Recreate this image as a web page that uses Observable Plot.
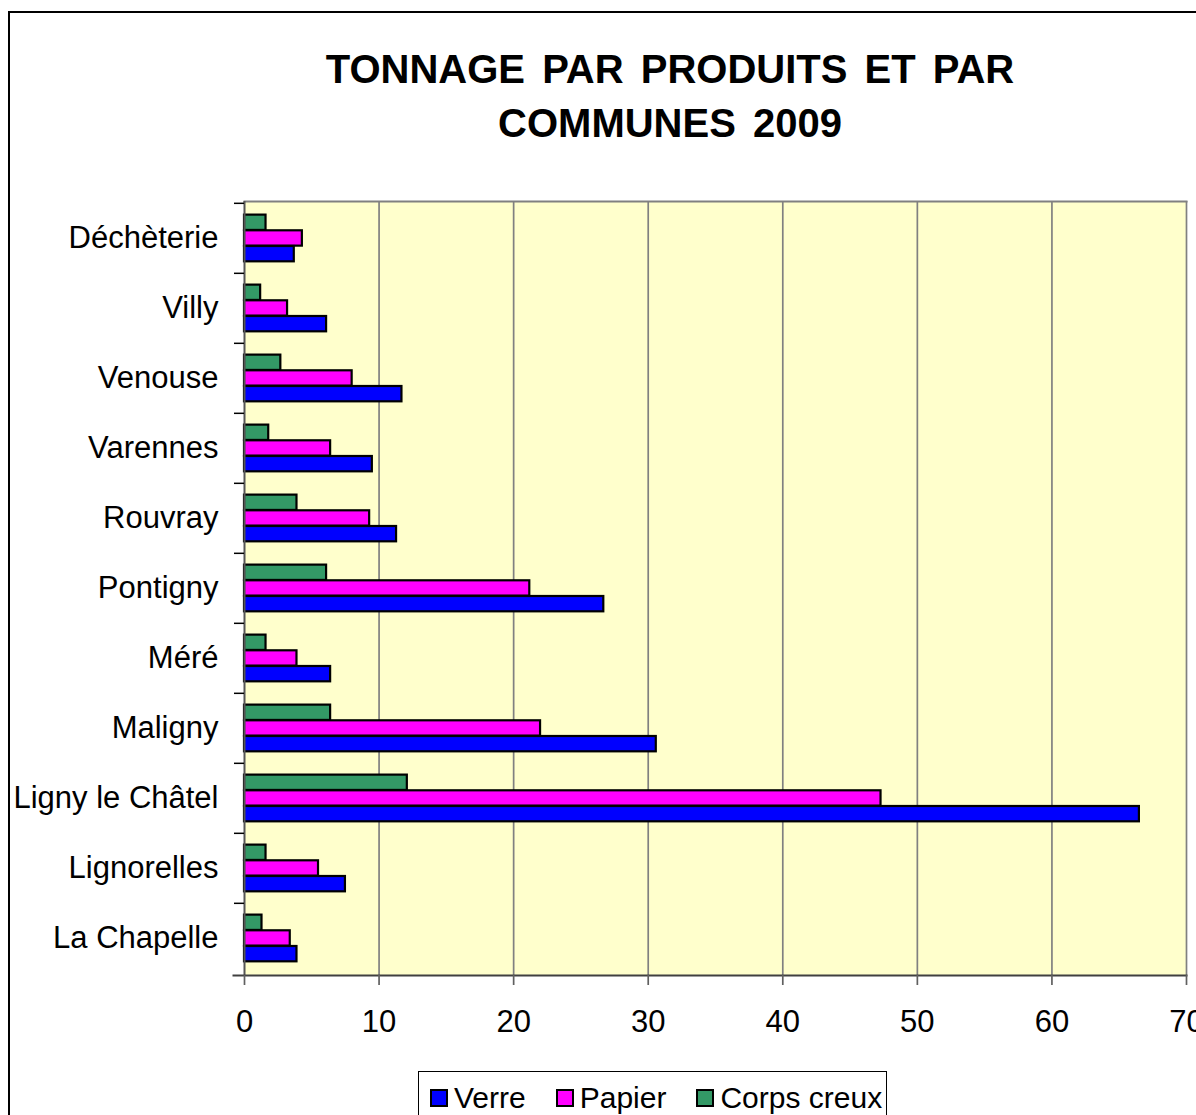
<!DOCTYPE html>
<html><head><meta charset="utf-8">
<script src="https://cdn.jsdelivr.net/npm/d3@7"></script>
<script src="https://cdn.jsdelivr.net/npm/@observablehq/plot@0.6"></script>
<style>
html,body{margin:0;padding:0;overflow:hidden;background:#fff;}
body{width:1196px;height:1115px;position:relative;font-family:"Liberation Sans",Arial,sans-serif;color:#000;}
#border{position:absolute;left:8px;top:11px;width:1300px;height:1300px;border:2px solid #000;box-sizing:border-box;pointer-events:none;}
#title{position:relative;box-sizing:border-box;width:1196px;padding-top:42px;padding-left:144px;text-align:center;font-weight:bold;font-size:40px;word-spacing:6px;line-height:54px;height:150px;white-space:nowrap;}
#chart{position:relative;height:910px;}
#legend{position:relative;margin-left:418px;margin-top:11px;width:469px;height:60px;border:1.5px solid #000;box-sizing:border-box;display:flex;flex-wrap:nowrap;align-items:flex-start;padding:8px 0 0 11px;font-size:30px;line-height:36px;background:#fff;white-space:nowrap;}
.item{display:flex;align-items:center;margin-right:30px;height:36px;flex-shrink:0;white-space:nowrap;}
.sw{width:18px;height:18px;border:2px solid #000;box-sizing:border-box;margin-right:6px;flex-shrink:0;}
</style>
</head><body>
<div id="border"></div>
<div id="title">TONNAGE PAR PRODUITS ET PAR<br>COMMUNES 2009</div>
<div id="chart"></div>
<div id="legend"></div>
<script>
// Categories (bottom to top as in the chart)
const communes = ["La Chapelle","Lignorelles","Ligny le Châtel","Maligny","Méré","Pontigny","Rouvray","Varennes","Venouse","Villy","Déchèterie"];
// Series values (tonnes)
const verre      = [3.9, 7.5, 66.5, 30.6, 6.4, 26.7, 11.3, 9.5, 11.7, 6.1, 3.7];
const papier     = [3.4, 5.5, 47.3, 22.0, 3.9, 21.2, 9.3, 6.4, 8.0, 3.2, 4.3];
const corpsCreux = [1.3, 1.6, 12.1, 6.4, 1.6, 6.1, 3.9, 1.8, 2.7, 1.2, 1.6];
const seriesNames = ["Verre","Papier","Corps creux"];
const seriesColors = ["#0000FF","#FF00FF","#339966"];
const xTicks = [0,10,20,30,40,50,60,70];

const values = {"Verre": verre, "Papier": papier, "Corps creux": corpsCreux};
const rows = communes.flatMap((c,i)=>seriesNames.map(s=>({commune:c, series:s, value:values[s][i]})));

const W=1196, H=910, mT=51, mB=85, mL=244, mR=10;
const bw = (H-mT-mB)/communes.length;
const off = bw*0.165, bh = bw*0.223;
const orderInBand = ["Corps creux","Papier","Verre"]; // top to bottom inside each band

const barMarks = orderInBand.map((s,k)=>Plot.barX(rows.filter(d=>d.series===s),{
  x:"value", y:"commune",
  fill: seriesColors[seriesNames.indexOf(s)],
  stroke:"#000", strokeWidth:2.2,
  insetTop: off + k*bh, insetBottom: bw - off - (k+1)*bh
}));

const chart = Plot.plot({
  width: W, height: H, marginTop: mT, marginBottom: mB, marginLeft: mL, marginRight: mR,
  style: {fontFamily: "'Liberation Sans', Arial, sans-serif", background: "transparent", overflow: "visible", color:"#000"},
  x: {domain:[0,70], ticks: xTicks},
  y: {domain: communes.slice().reverse(), padding: 0},
  marks: [
    Plot.frame({fill:"#FFFFCC"}),
    Plot.ruleX(xTicks.slice(1), {stroke:"#808080", strokeWidth:1.7}),
    Plot.frame({anchor:"top", stroke:"#808080", strokeWidth:2}),
    ...barMarks,
    Plot.ruleX([0], {stroke:"#555", strokeWidth:2}),
    Plot.frame({anchor:"bottom", stroke:"#404040", strokeWidth:2, insetLeft:-11}),
    Plot.axisX({ticks:xTicks, tickSize:10, tickPadding:24, fontSize:31, stroke:"#606060", strokeWidth:1.7, label:null}),
    Plot.axisY({tickSize:0, tickPadding:26, fontSize:31, label:null}),
    Plot.axisY({tickSize:10, tickFormat:()=>"", dy:-bw/2, label:null, stroke:"#000", strokeWidth:1.5})
  ]
});
document.getElementById("chart").appendChild(chart);

const legend = document.getElementById("legend");
seriesNames.forEach((s,i)=>{
  const item = document.createElement("div"); item.className="item";
  const sw = document.createElement("div"); sw.className="sw"; sw.style.background = seriesColors[i];
  const t = document.createElement("span"); t.textContent = s;
  item.appendChild(sw); item.appendChild(t); legend.appendChild(item);
});
</script>
</body></html>
